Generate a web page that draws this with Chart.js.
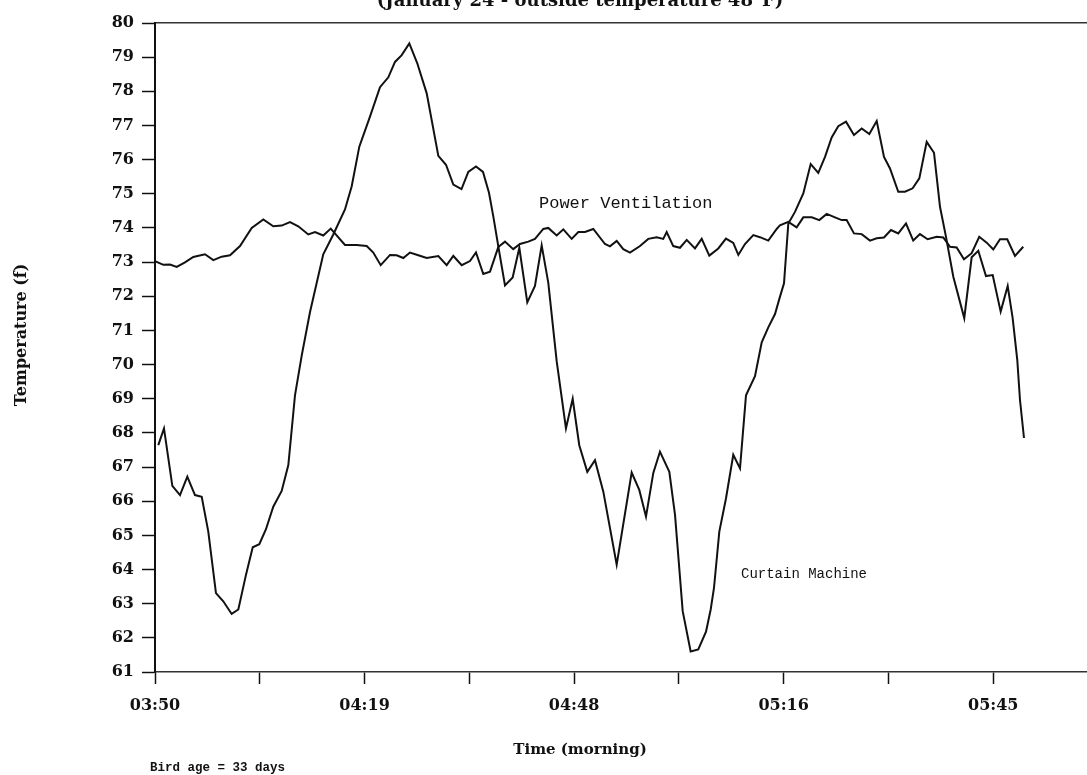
<!DOCTYPE html>
<html>
<head>
<meta charset="utf-8">
<script src="https://cdn.jsdelivr.net/npm/chart.js@4.4.0/dist/chart.umd.min.js"></script>
<style>
  html, body { margin: 0; padding: 0; background: #fff; }
  canvas { display: block; }
</style>
</head>
<body>
<canvas id="tempChart" width="1087" height="775"></canvas>
<script>
// House temperature, curtain machine vs power ventilation
// x values are minutes after 03:50

const xTickMinutes = [0, 14.33, 28.67, 43, 57.33, 71.67, 86, 100.33, 114.67];
const xTickLabels = ["03:50", "", "04:19", "", "04:48", "", "05:16", "", "05:45"];

const ventTimes = [
  0, 1.14, 2.05, 2.97, 4.1, 5.24, 6.84, 7.98, 9.12, 10.26, 11.63, 13.23, 14.82,
  16.18, 17.33, 18.47, 19.6, 20.97, 21.89, 23.02, 24.04, 25.99, 27.59, 28.96,
  29.86, 30.88, 32.15, 33.06, 33.97, 34.88, 36.02, 37.17, 38.76, 39.9, 40.81,
  41.96, 43.09, 43.91, 44.91, 45.83, 46.96, 47.88, 49.01, 49.93, 51.07, 51.98,
  53.12, 53.8, 54.95, 55.86, 57.0, 57.91, 58.82, 59.96, 61.56, 62.24, 63.16,
  64.06, 64.98, 66.35, 67.48, 68.63, 69.53, 70.0, 70.9, 71.82, 72.74, 73.87,
  74.79, 75.83, 77.06, 78.11, 79.11, 79.8, 80.71, 81.85, 82.76, 83.9, 85.05,
  85.5, 86.64, 87.78, 88.69, 89.84, 90.88, 91.89, 93.02, 93.94, 94.62, 95.62,
  96.68, 97.81, 98.73, 99.73, 100.68, 101.68, 102.74, 103.73, 104.65, 105.7,
  106.94, 107.84, 108.76, 109.67, 110.67, 111.72, 112.76, 113.78, 114.68,
  115.6, 116.59, 117.65, 118.78
];
const ventTemps = [
  73.03, 72.92, 72.93, 72.86, 72.99, 73.15, 73.23, 73.06, 73.16, 73.2, 73.47,
  74.0, 74.25, 74.05, 74.07, 74.17, 74.05, 73.81, 73.88, 73.78, 73.98, 73.5,
  73.5, 73.47, 73.28, 72.91, 73.21, 73.2, 73.12, 73.28, 73.2, 73.12, 73.18,
  72.91, 73.18, 72.91, 73.03, 73.28, 72.65, 72.72, 73.44, 73.6, 73.38, 73.53,
  73.6, 73.68, 73.97, 74.0, 73.78, 73.96, 73.68, 73.88, 73.88, 73.97, 73.53,
  73.46, 73.62, 73.38, 73.28, 73.47, 73.68, 73.73, 73.68, 73.88, 73.47, 73.42,
  73.65, 73.4, 73.68, 73.19, 73.4, 73.69, 73.56, 73.21, 73.53, 73.79, 73.73,
  73.63, 73.97, 74.08, 74.18, 74.02, 74.31, 74.31, 74.23, 74.41, 74.31, 74.23,
  74.23, 73.84, 73.82, 73.63, 73.7, 73.72, 73.94, 73.84, 74.13, 73.63, 73.82,
  73.67, 73.74, 73.72, 73.45, 73.43, 73.08, 73.26, 73.74, 73.57, 73.37, 73.67,
  73.67, 73.18, 73.45
];

const curtainTimes = [
  0.45, 1.23, 2.37, 3.42, 4.42, 5.47, 6.39, 7.29, 8.34, 9.34, 10.49, 11.4,
  12.45, 13.37, 14.27, 15.18, 16.18, 17.33, 18.24, 19.15, 20.07, 21.2, 23.02,
  24.39, 25.99, 26.91, 27.95, 29.41, 30.78, 31.92, 32.83, 33.75, 34.79, 35.88,
  37.17, 38.76, 39.81, 40.81, 41.93, 42.86, 43.91, 44.87, 45.69, 46.28, 46.96,
  47.88, 48.93, 49.84, 50.93, 51.98, 52.9, 53.8, 54.95, 56.22, 57.14, 58.04,
  59.14, 60.19, 61.33, 63.16, 65.21, 66.25, 67.17, 68.17, 69.08, 70.36, 71.14,
  72.19, 73.28, 74.32, 75.38, 76.02, 76.47, 77.2, 78.11, 79.11, 80.03, 80.85,
  82.08, 83.0, 83.9, 84.82, 85.5, 86.05, 86.64, 87.55, 88.69, 89.7, 90.74,
  91.66, 92.57, 93.47, 94.53, 95.62, 96.68, 97.72, 98.73, 99.73, 100.55,
  101.68, 102.6, 103.65, 104.56, 105.57, 106.57, 107.39, 108.21, 109.21,
  110.71, 111.72, 112.63, 113.68, 114.6, 115.69, 116.65, 117.33, 117.96,
  118.33, 118.88
];
const curtainTemps = [
  67.64, 68.13, 66.45, 66.18, 66.72, 66.18, 66.13, 65.11, 63.31, 63.07, 62.7,
  62.83, 63.85, 64.65, 64.74, 65.18, 65.84, 66.3, 67.06, 69.1, 70.26, 71.53,
  73.23, 73.81, 74.54, 75.22, 76.38, 77.26, 78.12, 78.41, 78.86, 79.06, 79.4,
  78.82, 77.94, 76.11, 75.85, 75.27, 75.14, 75.64, 75.8, 75.64, 75.03, 74.34,
  73.47, 72.32, 72.55, 73.42, 71.82, 72.3, 73.49, 72.4, 70.1, 68.13, 69.0,
  67.64, 66.86, 67.2, 66.28, 64.14, 66.84, 66.33, 65.55, 66.83, 67.45, 66.86,
  65.6, 62.78, 61.6, 61.66, 62.18, 62.83, 63.46, 65.11, 66.08, 67.36, 66.96,
  69.1, 69.66, 70.65, 71.09, 71.48, 71.99, 72.38, 74.13, 74.47, 75.01, 75.87,
  75.61, 76.08, 76.65, 76.98, 77.11, 76.72, 76.91, 76.75, 77.13, 76.08, 75.74,
  75.06, 75.06, 75.16, 75.45, 76.52, 76.2, 74.62, 73.74, 72.57, 71.36, 73.14,
  73.33, 72.59, 72.62, 71.55, 72.3, 71.36, 70.14, 68.97, 67.85
];

const serifBold = "'DejaVu Serif', 'Liberation Serif', serif";
const mono = "'Liberation Mono', 'DejaVu Sans Mono', monospace";

// titles and line labels drawn straight on the canvas
const textLabels = {
  id: "textLabels",
  afterDraw(chart) {
    const ctx = chart.ctx;
    ctx.save();
    ctx.fillStyle = "#111";

    ctx.font = "bold 18px " + serifBold;
    ctx.textAlign = "center";
    ctx.textBaseline = "alphabetic";
    ctx.fillText("(January 24 - outside temperature 48\u00B0F)", 580, 6);

    ctx.font = "17px " + mono;
    ctx.textAlign = "left";
    ctx.textBaseline = "middle";
    ctx.fillText("Power Ventilation", 539, 203);

    ctx.font = "14px " + mono;
    ctx.fillText("Curtain Machine", 741, 574);

    ctx.font = "bold 15px " + serifBold;
    ctx.textAlign = "center";
    ctx.fillText("Time (morning)", 580, 750);

    ctx.font = "bold 12.5px " + mono;
    ctx.textAlign = "left";
    ctx.fillText("Bird age = 33 days", 150, 768);

    ctx.translate(22, 335);
    ctx.rotate(-Math.PI / 2);
    ctx.font = "bold 16px " + serifBold;
    ctx.textAlign = "center";
    ctx.fillText("Temperature (f)", 0, 0);
    ctx.restore();
  },
};

const ctx = document.getElementById("tempChart");

new Chart(ctx, {
  type: "line",
  data: {
    datasets: [
      {
        label: "Power Ventilation",
        data: ventTimes.map((t, i) => ({ x: t, y: ventTemps[i] })),
        borderColor: "#111",
        borderWidth: 2,
        pointRadius: 0,
        tension: 0,
      },
      {
        label: "Curtain Machine",
        data: curtainTimes.map((t, i) => ({ x: t, y: curtainTemps[i] })),
        borderColor: "#111",
        borderWidth: 2,
        pointRadius: 0,
        tension: 0,
      },
    ],
  },
  options: {
    responsive: false,
    animation: false,
    layout: { padding: { top: 23, left: 0, right: 0, bottom: 0 } },
    plugins: {
      legend: { display: false },
      tooltip: { enabled: false },
    },
    scales: {
      x: {
        type: "linear",
        min: 0,
        max: 127.5,
        afterFit: function (scale) {
          scale.height = 103;
        },
        afterBuildTicks: function (scale) {
          scale.ticks = xTickMinutes.map((v) => ({ value: v }));
        },
        grid: {
          drawOnChartArea: false,
          drawTicks: true,
          tickLength: 12,
          tickColor: "#111",
          tickWidth: 1.5,
        },
        border: { display: true, color: "#333", width: 1.5, dash: [14, 3] },
        ticks: {
          autoSkip: false,
          maxRotation: 0,
          padding: 12,
          color: "#111",
          font: { family: serifBold, size: 16, weight: "bold" },
          callback: function (value, index) {
            return xTickLabels[index];
          },
        },
      },
      xTop: {
        type: "linear",
        position: "top",
        min: 0,
        max: 127.5,
        afterFit: function (scale) {
          scale.height = 0;
        },
        grid: { display: false, drawTicks: false },
        ticks: { display: false },
        border: { display: true, color: "#333", width: 1.5, dash: [40, 3] },
      },
      y: {
        min: 61,
        max: 80,
        afterFit: function (scale) {
          scale.width = 155;
        },
        ticks: {
          stepSize: 1,
          padding: 8,
          color: "#111",
          font: { family: serifBold, size: 16, weight: "bold" },
        },
        grid: {
          drawOnChartArea: false,
          drawTicks: true,
          tickLength: 13,
          tickColor: "#111",
          tickWidth: 1.5,
        },
        border: { display: true, color: "#111", width: 2 },
      },
    },
  },
  plugins: [textLabels],
});
</script>
</body>
</html>
